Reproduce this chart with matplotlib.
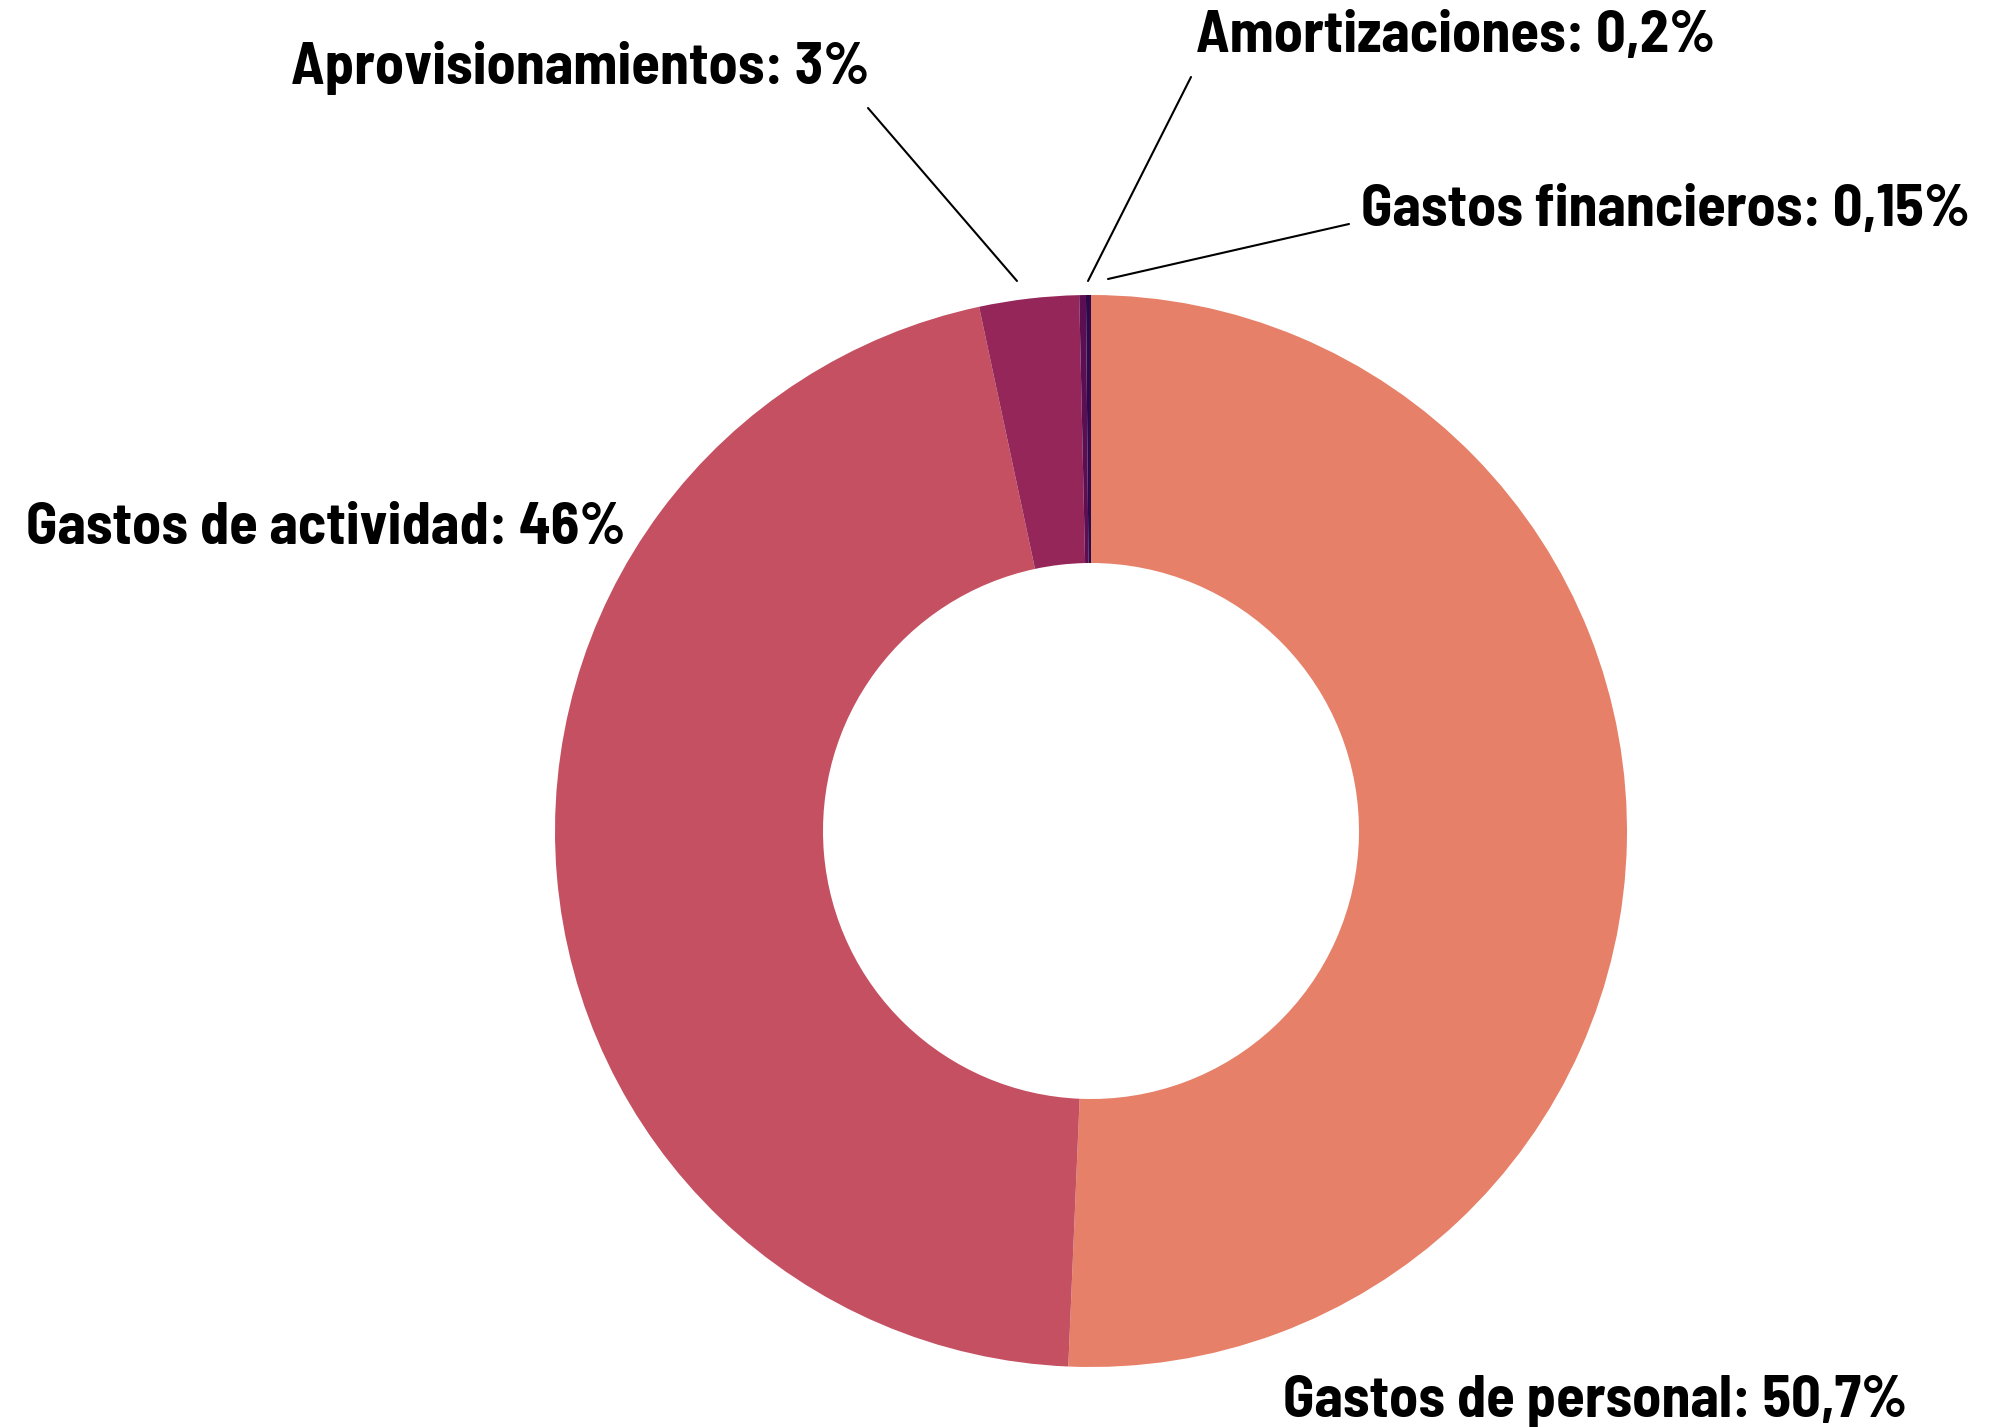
import matplotlib
matplotlib.use("Agg")
import matplotlib.pyplot as plt

categories = ["Gastos de personal", "Gastos de actividad", "Aprovisionamientos",
              "Amortizaciones", "Gastos financieros"]
values = [50.7, 46, 3, 0.2, 0.15]
value_labels = ["50,7%", "46%", "3%", "0,2%", "0,15%"]
colors = ["#E78068", "#C45062", "#95265A", "#5C0E52", "#2C0A4B"]

W, H = 2010, 1427
fig = plt.figure(figsize=(W / 100, H / 100), dpi=100)
ax = fig.add_axes([0, 0, 1, 1])

cx, cy, R = 1091, H - 831, 536
ax.pie(values, colors=colors, startangle=90, counterclock=False,
       radius=R, center=(cx, cy), frame=True,
       wedgeprops=dict(width=R * 0.5, linewidth=0, antialiased=True))
ax.set_xlim(0, W)
ax.set_ylim(0, H)
ax.set_aspect("equal")
ax.axis("off")

font = dict(family=["Barlow Semi Condensed", "DejaVu Sans"], fontweight="bold", fontsize=42, color="black")

# label positions (left x, center y in image coords)
label_pos = [(1283, 1402), (26, 528), (291, 68), (1196, 36), (1361, 211)]
for name, vl, (lx, ly) in zip(categories, value_labels, label_pos):
    ax.text(lx, H - ly, f"{name}: {vl}", ha="left", va="center", **font)

# leader lines
lines = [((868, 108), (1017, 281)), ((1191, 77), (1088, 281)), ((1349, 224), (1108, 279))]
for (x0, y0), (x1, y1) in lines:
    ax.annotate("", xy=(x1, H - y1), xytext=(x0, H - y0),
                arrowprops=dict(arrowstyle="-", color="black", lw=1.5, shrinkA=0, shrinkB=0))

fig.savefig("out.png", dpi=100, facecolor="white")
